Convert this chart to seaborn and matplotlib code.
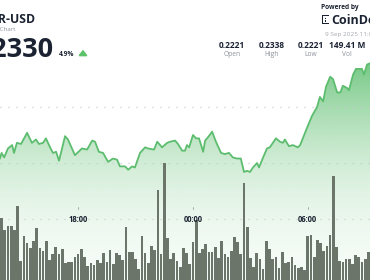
import numpy as np
import matplotlib
matplotlib.use("Agg")
import matplotlib.pyplot as plt
import seaborn as sns
from matplotlib.patches import RegularPolygon, Rectangle

sns.set_theme(style="white")
plt.rcParams['font.family'] = ['Open Sans', 'DejaVu Sans']

# ---------------- data ----------------
symbol = "HBAR-USD"
subtitle = "HBAR Chart"
last_price = "0.2330"
change_pct = "4.9%"
stat_values = ["0.2221", "0.2338", "0.2221", "149.41 M"]
stat_labels = ["Open", "High", "Low", "Vol"]
powered_by = "Powered by"
brand = "CoinDesk"
timestamp = "9 Sep 2025 11:00"

# price line: minutes after 14:00 and price (USD)
price_minutes = [-5, 0, 8, 20, 33, 39, 48, 61, 80, 95, 108, 117, 130, 139, 152, 161, 171, 180, 199, 208,
                 230, 252, 268, 284, 293, 305, 318, 334, 349, 362, 371, 387, 397, 409, 418, 434, 450, 459,
                 478, 488, 503, 519, 528, 544, 553, 566, 575, 581, 588, 600, 610, 619, 632, 638, 647, 660,
                 672, 688, 700, 713, 725, 738, 750, 760, 769, 779, 788, 801, 807, 820, 832, 841, 860, 873,
                 882, 888, 901, 913, 929, 936, 957, 973, 989, 998, 1008, 1017, 1030, 1039, 1052, 1062,
                 1070, 1083, 1089, 1102, 1111, 1130, 1136, 1146, 1155]
price_values = [0.2254, 0.2259, 0.2255, 0.2263, 0.2266, 0.2259, 0.2268, 0.2267, 0.2277, 0.2268,
                0.2271, 0.2267, 0.2268, 0.2272, 0.2264, 0.2259, 0.2260, 0.2252, 0.2274, 0.2271,
                0.2257, 0.2263, 0.2262, 0.2270, 0.2269, 0.2260, 0.2259, 0.2251, 0.2254, 0.2253,
                0.2247, 0.2247, 0.2244, 0.2247, 0.2246, 0.2259, 0.2264, 0.2263, 0.2262, 0.2269,
                0.2264, 0.2268, 0.2269, 0.2270, 0.2267, 0.2261, 0.2261, 0.2266, 0.2264, 0.2275,
                0.2272, 0.2272, 0.2260, 0.2270, 0.2273, 0.2278, 0.2269, 0.2259, 0.2258, 0.2259,
                0.2255, 0.2254, 0.2254, 0.2242, 0.2243, 0.2242, 0.2246, 0.2250, 0.2246, 0.2255,
                0.2263, 0.2264, 0.2272, 0.2269, 0.2268, 0.2271, 0.2265, 0.2266, 0.2264, 0.2266,
                0.2281, 0.2292, 0.2300, 0.2309, 0.2305, 0.2318, 0.2327, 0.2325, 0.2313, 0.2313,
                0.2319, 0.2317, 0.2315, 0.2329, 0.2334, 0.2334, 0.2329, 0.2338, 0.2339]

# volume per 10-minute bar starting 14:00 (hundred-thousand units)
volume_values = [61.7, 50, 54.3, 54.3, 50, 74, 19, 44, 37.3, 32.3, 39.3, 51.7, 31.7, 29.3, 39.3, 20, 26,
                 33.3, 26, 30.7, 16.7, 17.7, 17.7, 23.3, 25.7, 30.7, 22.7, 14, 17.3, 14.7, 20, 17.3, 27.3,
                 18.3, 30, 16, 26.7, 25, 20, 53.3, 28.3, 28.3, 20.7, 10.7, 44, 26.7, 17.3, 34.3, 30, 90,
                 26, 117, 41.7, 20.7, 27.3, 19.3, 13.3, 32.3,
                 26.7, 16, 38.3, 60, 27.3, 30.7, 36, 28.3, 27.7, 32.7, 21.7, 39, 26, 22.7, 29.3, 43.3, 38,
                 26, 97, 52.7, 21.7, 13.3, 26.7, 20.7, 11, 38.7, 31, 21.3, 23.3, 11.7, 28.3, 17.3, 18,
                 22.7, 14.7, 11.7, 13.3, 10, 44, 45, 22.7, 40, 36.7, 29, 34.3, 45, 104, 33.3, 19.3, 18.3,
                 21.3, 20.7, 16, 25, 22.7, 18.3, 20.7, 27.7]
bar_step_minutes = 10
start_hour = 14
tick_labels = ["18:00", "00:00", "06:00"]
grid_prices = [0.220, 0.225, 0.230]

# ---------------- style ----------------
W, H = 370, 280
NAVY = "#1b2332"
GRAY = "#8d929b"
LINE_GREEN = "#5dbd6f"
FILL_RGB = np.array([92, 190, 110]) / 255
BAR_COLOR = "#6c7569"

fig = plt.figure(figsize=(W / 100, H / 100), dpi=100)
fig.patch.set_facecolor("white")

def P(x, y):
    return x / W, 1 - y / H

xlim = (-5, 1155)
ylim = (0.214554, 0.239554)

ax = fig.add_axes([0, 0, 1, 1], zorder=1)
axv = fig.add_axes([0, 0, 1, 1], zorder=2)
axl = fig.add_axes([0, 0, 1, 1], zorder=3)
for a in (ax, axv, axl):
    a.set_xlim(*xlim)
    a.axis("off")
axv.patch.set_alpha(0)
axl.patch.set_alpha(0)
ax.set_ylim(*ylim)
axl.set_ylim(*ylim)
axv.set_ylim(0, H)

# gradient fill under price line
fb = ax.fill_between(price_minutes, price_values, ylim[0], facecolor="none", edgecolor="none")
n = 400
f = np.linspace(1, 0, n)            # 1 = top of figure
ypx = H * (1 - f)
t = np.clip((H - ypx) / 220, 0, 1)
alpha = 0.06 + 0.80 * t ** 2
grad = np.zeros((n, 1, 4))
grad[:, 0, :3] = FILL_RGB
grad[:, 0, 3] = alpha
im = ax.imshow(grad, extent=[xlim[0], xlim[1], ylim[0], ylim[1]], aspect="auto",
               origin="upper", zorder=1)
im.set_clip_path(fb.get_paths()[0], transform=ax.transData)

# dotted gridlines
for g in grid_prices:
    ax.axhline(g, color="#c5c9cd", lw=0.9, ls=(0, (0.9, 5.5)), zorder=2)

# volume bars
bar_minutes = [i * bar_step_minutes for i in range(len(volume_values))]
sns.barplot(x=bar_minutes, y=volume_values, native_scale=True, width=0.84, color=BAR_COLOR,
            saturation=1, errorbar=None, edgecolor="none", ax=axv)
axv.set_xlim(*xlim)
axv.set_ylim(0, H)
axv.axis("off")

# price line
sns.lineplot(x=price_minutes, y=price_values, color=LINE_GREEN, linewidth=1.3, ax=axl)
axl.set_xlim(*xlim)
axl.set_ylim(*ylim)
axl.axis("off")

# time labels
for lab in tick_labels:
    hh = int(lab[:2])
    m = ((hh - start_hour) % 24) * 60
    axl.text(m, 0.2200, lab, ha="center", va="center", fontsize=5.5, fontweight="bold",
             color=NAVY, zorder=5)
    axl.plot([m, m], [0.2209, 0.2211], color="#9aa0a6", lw=0.6)

# ---------------- header ----------------
fig.text(*P(35.5, 23), symbol, ha="right", va="baseline", fontsize=8.8, fontweight="bold", color=NAVY)
fig.text(*P(15, 31), subtitle, ha="right", va="baseline", fontsize=4.4, color=GRAY)
fig.text(*P(53, 57), last_price, ha="right", va="baseline", fontsize=19.5, fontweight="bold", color=NAVY)
fig.text(*P(59, 56), change_pct, ha="left", va="baseline", fontsize=4.8, fontweight="bold", color=NAVY)
fig.patches.append(RegularPolygon(P(83, 54), 3, radius=3.3 / H, orientation=0,
                                  transform=fig.transFigure, color="#5cc26b"))

centers = [232, 272, 311, 347]
for cx, v, l in zip(centers, stat_values, stat_labels):
    fig.text(*P(cx, 48.5), v, ha="center", va="baseline", fontsize=6, fontweight="bold", color=NAVY)
    fig.text(*P(cx, 56), l, ha="center", va="baseline", fontsize=4.8, color=GRAY)

fig.text(*P(321, 9), powered_by, ha="left", va="baseline", fontsize=4.7, fontweight="bold", color=NAVY)
fig.text(*P(331, 24), brand, ha="left", va="baseline", fontsize=9, fontweight="bold", color=NAVY)
# logo icon (dashed bracket)
for (x0, y0, w, h) in [(322, 15, 7, 1.3), (322, 15, 1.3, 9), (322, 22.7, 7, 1.3), (325, 18, 1.2, 1.2),
                       (325, 20.5, 1.2, 1.2)]:
    fig.patches.append(Rectangle(P(x0, y0 + h), w / W, h / H, transform=fig.transFigure,
                                 color=NAVY, lw=0))
fig.text(*P(325, 36), timestamp, ha="left", va="baseline", fontsize=4.6, color="#a3a7ad")

fig.savefig("out.png", dpi=100, facecolor="white")
